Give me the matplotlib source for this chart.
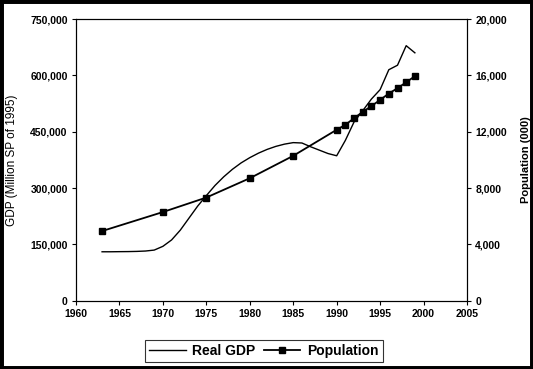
import numpy as np
import matplotlib
matplotlib.use('Agg')
import matplotlib.pyplot as plt
from matplotlib.patches import Rectangle
from matplotlib.ticker import FuncFormatter

# Real GDP, yearly (million SP of 1995)
gdp_years = list(range(1963, 2000))
gdp = [130500, 130500, 130800, 131000, 131500, 132500, 135000, 145000,
       162000, 188000, 220000, 252000, 280000, 307000, 330000, 350000,
       367000, 381000, 393000, 403000, 411000, 417000, 421000, 420000,
       410000, 401000, 392000, 386000, 427000, 476000, 506000, 537000,
       562000, 615000, 627000, 679000, 660000]

# Population (000)
pop_years = [1963, 1970, 1975, 1980, 1985, 1990, 1991, 1992, 1993, 1994,
             1995, 1996, 1997, 1998, 1999]
pop = [4950, 6300, 7330, 8700, 10290, 12140, 12490, 12960, 13410, 13820,
       14260, 14710, 15090, 15510, 15940]

plt.rcParams['font.family'] = ['Liberation Sans', 'DejaVu Sans']

fig = plt.figure(figsize=(5.33, 3.69), dpi=100)
ax = fig.add_axes([0.1426, 0.1848, 0.7336, 0.7637])
ax2 = ax.twinx()

l1, = ax.plot(gdp_years, gdp, color='black', lw=1.0, label='Real GDP')
l2, = ax2.plot(pop_years, pop, color='black', lw=1.3, marker='s',
               markersize=4.8, label='Population')

ax.set_xlim(1960, 2005)
ax.set_xticks(np.arange(1960, 2006, 5))
ax.set_ylim(0, 750000)
ax.set_yticks(np.arange(0, 750001, 150000))
ax.yaxis.set_major_formatter(FuncFormatter(lambda v, p: f'{int(v):,}'))
ax2.set_ylim(0, 20000)
ax2.set_yticks(np.arange(0, 20001, 4000))
ax2.yaxis.set_major_formatter(FuncFormatter(lambda v, p: f'{int(v):,}'))

for a in (ax, ax2):
    a.tick_params(direction='out', length=3, width=0.8, labelsize=7.5, pad=3)
    for lab in a.get_xticklabels() + a.get_yticklabels():
        lab.set_fontweight('bold')
    for s in a.spines.values():
        s.set_linewidth(0.8)

ax.set_ylabel('GDP (Million SP of 1995)', fontsize=8.5, labelpad=9)
ax2.set_ylabel('Population (000)', fontsize=8, fontweight='bold', labelpad=10)

leg = fig.legend([l1, l2], ['Real GDP', 'Population'], ncol=2,
                 loc='center', bbox_to_anchor=(264 / 533, 1 - 351 / 369),
                 frameon=True, fancybox=False, handlelength=2.6,
                 handletextpad=0.5, columnspacing=0.6, borderpad=0.3,
                 prop={'weight': 'bold', 'size': 10})
leg.get_frame().set_edgecolor('black')
leg.get_frame().set_linewidth(0.8)

# black frame around the whole picture
fig.patches.append(Rectangle((0, 0), 1, 1, transform=fig.transFigure,
                             fill=False, edgecolor='black', lw=5))

fig.savefig('out.png', dpi=100)
